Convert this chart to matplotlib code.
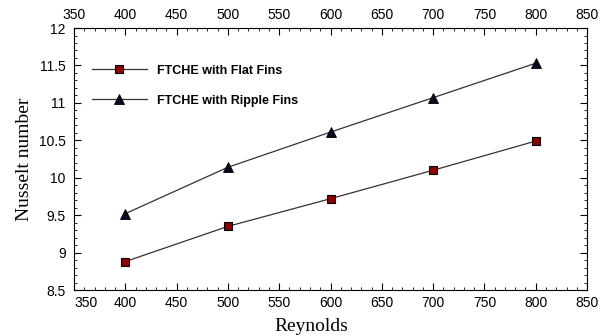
import numpy as np
import matplotlib.pyplot as plt
from matplotlib.ticker import MultipleLocator

# Data
reynolds = [400, 500, 600, 700, 800]
nu_flat = [8.88, 9.35, 9.72, 10.10, 10.49]
nu_ripple = [9.52, 10.14, 10.61, 11.07, 11.53]

fig = plt.figure(figsize=(6.08, 3.35), dpi=100)
ax = fig.add_axes([0.1217, 0.1343, 0.8438, 0.782])

ax.plot(reynolds, nu_flat, color='#3a3030', lw=0.9, marker='s', ms=5.4,
        mfc='#8b0000', mec='black', mew=0.8, label='FTCHE with Flat Fins')
ax.plot(reynolds, nu_ripple, color='#3a3030', lw=0.9, marker='^', ms=6.8,
        mfc='#0a0a20', mec='black', mew=0.6, label='FTCHE with Ripple Fins')

ax.set_xlim(350, 850)
ax.set_ylim(8.5, 12)
ax.xaxis.set_major_locator(MultipleLocator(50))
ax.xaxis.set_minor_locator(MultipleLocator(10))
ax.yaxis.set_major_locator(MultipleLocator(0.5))
ax.yaxis.set_minor_locator(MultipleLocator(0.1))
ax.tick_params(which='both', direction='in', top=True, right=True,
               labeltop=True, labelsize=10)
ax.tick_params(axis='x', pad=4.5)
ax.tick_params(axis='y', pad=6)
ax.tick_params(which='major', length=5)
ax.tick_params(which='minor', length=2.5)
ax.yaxis.set_major_formatter(plt.FuncFormatter(lambda v, p: f'{v:g}'))
fig.canvas.draw()
for t in ax.xaxis.get_major_ticks() + ax.yaxis.get_major_ticks():
    t.label1.set_fontfamily('Liberation Sans')
    t.label2.set_fontfamily('Liberation Sans')
# bottom-left "350" sits right of the corner, as in the reference
for t in ax.xaxis.get_major_ticks():
    if abs(t.get_loc() - 350) < 1e-6:
        t.label1.set_horizontalalignment('left')

ax.set_xlabel('Reynolds', family='Liberation Serif', fontsize=14)
ax.xaxis.set_label_coords(0.462, -0.105)
ax.set_ylabel('Nusselt number', family='Liberation Serif', fontsize=14, labelpad=4)

ax.legend(loc='upper left', bbox_to_anchor=(0.035, 0.86), frameon=False,
          prop={'family': 'Liberation Sans', 'weight': 'bold', 'size': 9},
          handlelength=4.4, labelspacing=1.45, handletextpad=0.8,
          borderpad=0, borderaxespad=0)

fig.savefig('out.png', dpi=100)
